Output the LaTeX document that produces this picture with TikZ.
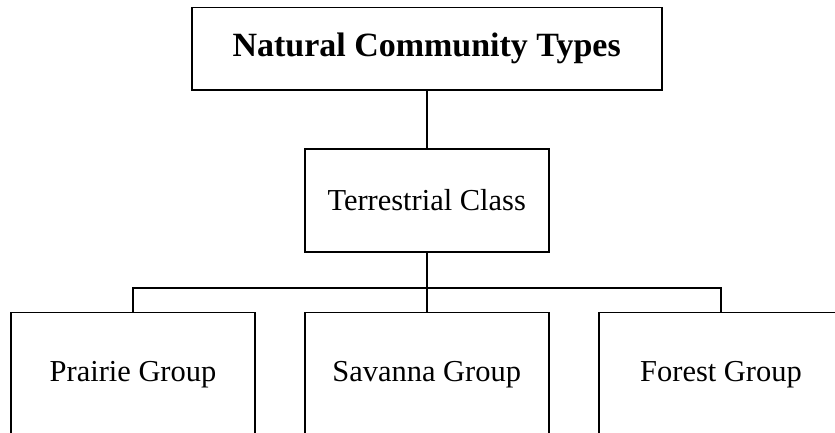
\documentclass[tikz,border=0pt]{standalone}
\usepackage{fontspec}
\setmainfont{Liberation Serif}
\usepackage{tikz}
\tikzstyle{title} = [rectangle, minimum width=14.1cm, minimum height=2.475cm, text centered, draw=black, line width=1.6pt, font=\fontsize{29}{34}\selectfont\bfseries]
\tikzstyle{classbox} = [rectangle, minimum width=7.32cm, minimum height=3.08cm, text centered, draw=black, line width=1.6pt, font=\fontsize{26}{31}\selectfont]
\tikzstyle{groupbox} = [rectangle, minimum width=7.32cm, minimum height=3.75cm, text centered, draw=black, line width=1.6pt, font=\fontsize{26}{31}\selectfont]
\tikzstyle{link} = [line width=1.6pt]

\begin{document}
\begin{tikzpicture}
  \useasboundingbox (0, 0) rectangle (25.05, -12.99);
  \clip (0, 0) rectangle (25.05, -12.99);
  \node (types) [title] at (12.8, -1.4625) {Natural Community Types};
  \node (terrestrial) [classbox] at (12.8, -6.01) {Terrestrial Class};
  \node (prairie) [groupbox] at (3.99, -11.25) {Prairie Group};
  \node (savanna) [groupbox] at (12.8, -11.25) {Savanna Group};
  \node (forest) [groupbox] at (21.63, -11.25) {Forest Group};
  \coordinate (bus) at (12.8, -8.64);
  \draw [link] (types) -- (terrestrial);
  \draw [link] (terrestrial) -- (bus) -- (savanna);
  \draw [link] (bus) -| (prairie);
  \draw [link] (bus) -| (forest);
\end{tikzpicture}
\end{document}
